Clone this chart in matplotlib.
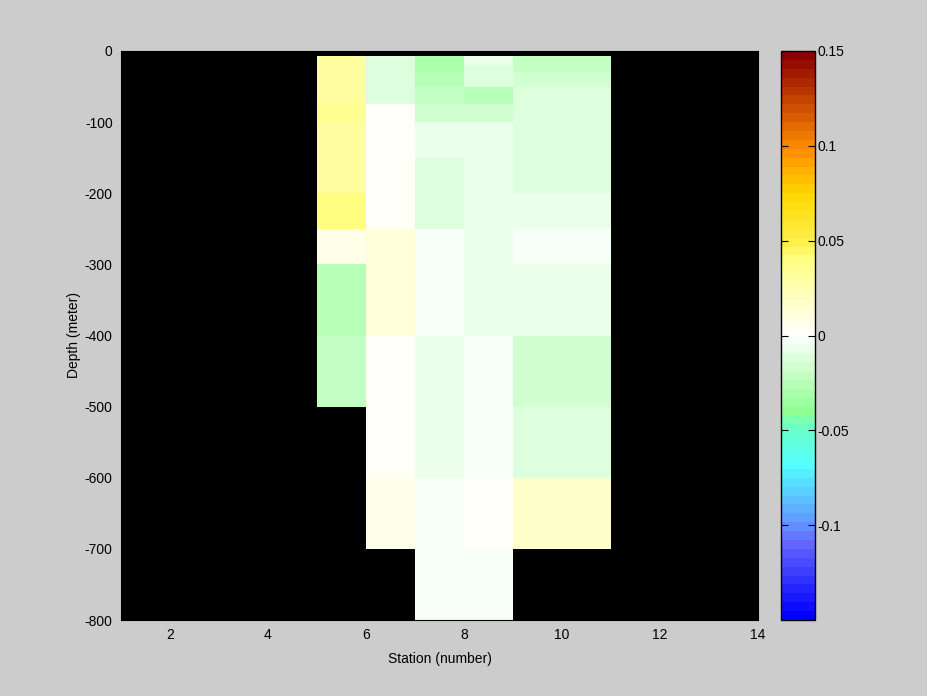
import numpy as np
import matplotlib
matplotlib.use("Agg")
import matplotlib.pyplot as plt
from matplotlib.colors import LinearSegmentedColormap
from matplotlib.ticker import FormatStrFormatter

plt.rcParams['font.family'] = ['Liberation Sans', 'DejaVu Sans']
plt.rcParams['font.size'] = 10
plt.rcParams['axes.unicode_minus'] = False

nan = np.nan

# station cell edges and depth cell edges
station_edges = np.arange(1, 15)
depth_edges = [-7, -20, -30, -50, -75, -100, -150, -200, -250, -300,
               -400, -500, -600, -700, -800]

# values per station column (one per depth cell, top to bottom)
st5 = [0.030, 0.030, 0.030, 0.030, 0.035, 0.030, 0.030, 0.040, 0.007,
       -0.026, -0.021, nan, nan, nan]
st6 = [-0.012, -0.012, -0.012, -0.012, 0.002, 0.002, 0.002, 0.002,
       0.012, 0.012, 0.002, 0.002, 0.007, nan]
st7 = [-0.030, -0.030, -0.026, -0.021, -0.016, -0.007, -0.012, -0.012,
       -0.002, -0.002, -0.007, -0.007, -0.002, -0.002]
st8 = [-0.007, -0.012, -0.012, -0.026, -0.016, -0.007, -0.007, -0.007,
       -0.007, -0.007, -0.002, -0.002, 0.002, -0.002]
st9 = [-0.021, -0.021, -0.016, -0.012, -0.012, -0.012, -0.012, -0.007,
       -0.002, -0.007, -0.016, -0.012, 0.016, nan]
st10 = [-0.021, -0.021, -0.016, -0.012, -0.012, -0.012, -0.012, -0.007,
        -0.002, -0.007, -0.016, -0.012, 0.016, nan]

cbar_ticks = [-0.1, -0.05, 0, 0.05, 0.1, 0.15]

C = np.full((len(depth_edges) - 1, len(station_edges) - 1), nan)
for st, col in zip([5, 6, 7, 8, 9, 10], [st5, st6, st7, st8, st9, st10]):
    C[:, st - 1] = col
C = np.ma.masked_invalid(C)

# blue - cyan - green - white - yellow - orange - dark red
cmap = LinearSegmentedColormap.from_list('bwr_custom', [
    (0.0, (0.0, 0.0, 1.0)),
    (0.13, (0.4, 0.4, 1.0)),
    (0.167, (0.38, 0.6, 1.0)),
    (0.27, (0.33, 1.0, 1.0)),
    (0.333, (0.42, 1.0, 0.78)),
    (0.367, (0.57, 1.0, 0.57)),
    (0.5, (1.0, 1.0, 1.0)),
    (0.633, (1.0, 1.0, 0.52)),
    (0.667, (1.0, 0.94, 0.3)),
    (0.75, (1.0, 0.85, 0.0)),
    (0.833, (1.0, 0.55, 0.0)),
    (1.0, (0.55, 0.0, 0.0)),
], N=64)

fig = plt.figure(figsize=(9.28, 6.96), dpi=100, facecolor='#cccccc')
ax = fig.add_axes([121/928, 1 - 620/696, (758 - 121)/928, (620 - 51)/696])
cax = fig.add_axes([781/928, 1 - 620/696, (815 - 781)/928, (620 - 51)/696])

ax.set_facecolor('black')
mesh = ax.pcolormesh(station_edges, depth_edges, C, cmap=cmap,
                     vmin=-0.15, vmax=0.15, shading='flat')
ax.set_xlim(1, 14)
ax.set_ylim(-800, 0)
ax.set_xticks([2, 4, 6, 8, 10, 12, 14])
ax.set_yticks(np.arange(-800, 1, 100))
ax.tick_params(direction='in', length=0, pad=6)
ax.set_xlabel('Station (number)', labelpad=7)
ax.set_ylabel('Depth (meter)', labelpad=2.5)

cb = fig.colorbar(mesh, cax=cax, ticks=cbar_ticks)
cb.ax.yaxis.set_major_formatter(FormatStrFormatter('%g'))
cb.ax.tick_params(direction='in', left=True, right=True, length=5, pad=2)
cb.outline.set_linewidth(1)

fig.savefig('out.png', dpi=100, facecolor=fig.get_facecolor())
